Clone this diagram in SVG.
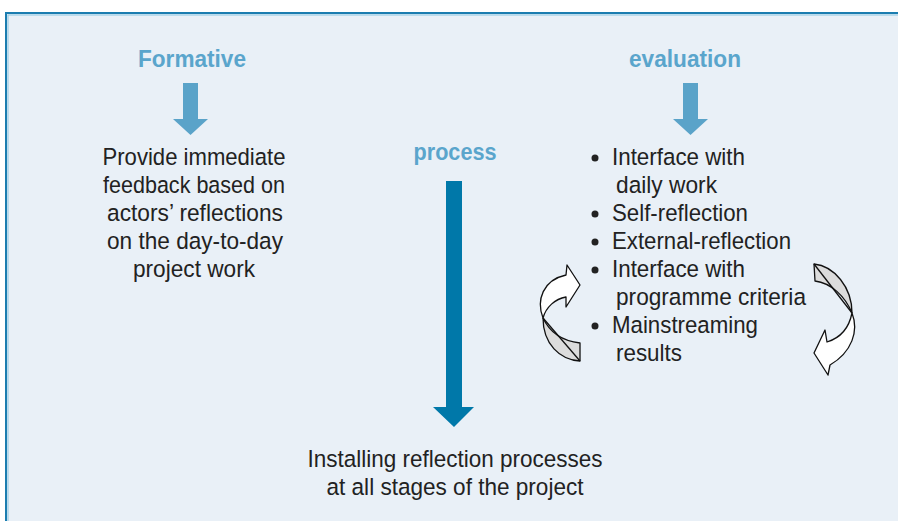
<svg xmlns="http://www.w3.org/2000/svg" width="898" height="521" viewBox="0 0 898 521">
<style>
  .hdr { font-family: "Liberation Sans", Arial, sans-serif; font-weight: bold; font-size: 24.5px; fill: #5aa5cc; text-anchor: middle; }
  .txt { font-family: "Liberation Sans", Arial, sans-serif; font-size: 24.5px; fill: #222; }
  .mid { text-anchor: middle; }
  .small-arrow { fill: #5aa3c9; }
  .big-arrow { fill: #0078a9; }
  .cw { fill: #ffffff; stroke: #111; stroke-width: 1.3; stroke-linejoin: round; }
  .cg { fill: #dcdcdc; stroke: #111; stroke-width: 1.3; stroke-linejoin: round; }
  .bul { fill: #222; }
</style>
<rect x="0" y="0" width="898" height="521" fill="#ffffff"/>
<rect x="6" y="13" width="900" height="520" fill="#e9f0f7" stroke="#1b7db0" stroke-width="2"/>
<rect x="8" y="15" width="900" height="520" fill="none" stroke="#8cc6e2" stroke-width="1"/>

<g id="formative">
  <text class="hdr" x="192" y="67" textLength="108" lengthAdjust="spacingAndGlyphs">Formative</text>
</g>
<g id="evaluation">
  <text class="hdr" x="685" y="67" textLength="112" lengthAdjust="spacingAndGlyphs">evaluation</text>
</g>
<g id="process">
  <text class="hdr" x="455" y="160" textLength="83" lengthAdjust="spacingAndGlyphs">process</text>
</g>

<g id="feedback">
  <text class="txt mid" x="194" y="165" textLength="183" lengthAdjust="spacingAndGlyphs">Provide immediate</text>
  <text class="txt mid" x="194" y="193" textLength="182" lengthAdjust="spacingAndGlyphs">feedback based on</text>
  <text class="txt mid" x="195" y="221" textLength="176" lengthAdjust="spacingAndGlyphs">actors’ reflections</text>
  <text class="txt mid" x="195" y="249" textLength="176" lengthAdjust="spacingAndGlyphs">on the day-to-day</text>
  <text class="txt mid" x="194" y="277" textLength="122" lengthAdjust="spacingAndGlyphs">project work</text>
</g>

<g id="evaluation-list">
  <circle class="bul" cx="595" cy="158" r="3.5"/>
  <text class="txt" x="612" y="165" textLength="133" lengthAdjust="spacingAndGlyphs">Interface with</text>
  <text class="txt" x="616" y="193" textLength="101" lengthAdjust="spacingAndGlyphs">daily work</text>
  <circle class="bul" cx="595" cy="214" r="3.5"/>
  <text class="txt" x="612" y="221" textLength="136" lengthAdjust="spacingAndGlyphs">Self-reflection</text>
  <circle class="bul" cx="595" cy="242" r="3.5"/>
  <text class="txt" x="612" y="249" textLength="179" lengthAdjust="spacingAndGlyphs">External-reflection</text>
  <circle class="bul" cx="595" cy="270" r="3.5"/>
  <text class="txt" x="612" y="277" textLength="133" lengthAdjust="spacingAndGlyphs">Interface with</text>
  <text class="txt" x="616" y="305" textLength="190" lengthAdjust="spacingAndGlyphs">programme criteria</text>
  <circle class="bul" cx="595" cy="326" r="3.5"/>
  <text class="txt" x="612" y="333" textLength="146" lengthAdjust="spacingAndGlyphs">Mainstreaming</text>
  <text class="txt" x="616" y="361" textLength="66" lengthAdjust="spacingAndGlyphs">results</text>
</g>

<g id="installing">
  <text class="txt mid" x="455" y="467" textLength="295" lengthAdjust="spacingAndGlyphs">Installing reflection processes</text>
  <text class="txt mid" x="455" y="495" textLength="257" lengthAdjust="spacingAndGlyphs">at all stages of the project</text>
</g>

<g id="connectors">
  <polygon class="small-arrow" points="183,83 198,83 198,119 208,119 190.5,135 173,119 183,119"/>
  <polygon class="small-arrow" points="683,83 698,83 698,119 708,119 690.5,135 673,119 683,119"/>
  <polygon class="big-arrow" points="446,181 462,181 462,407 474,407 454,427 433,407 446,407"/>
  <g id="cycle-left">
    <path class="cg" d="M543,318 C543,344 560,360 580,361 L580,343 C563,341 550,333 543,318 Z"/>
    <line x1="543" y1="318" x2="580" y2="361" stroke="#111" stroke-width="1.3"/>
    <path class="cw" d="M543,318 C536,300 543,280 566,275 L567,265 L580,285 L566,307 L566,297 C555,299 546,307 543,318 Z"/>
  </g>
  <g id="cycle-right">
    <path class="cg" d="M852,313 C852,287 834,266 814,264 L815,281 C831,283 845,296 852,313 Z"/>
    <line x1="814" y1="264" x2="852" y2="313" stroke="#111" stroke-width="1.3"/>
    <path class="cw" d="M852,313 C859,331 852,352 830,365 L828,375 L814,353 L825,330 L827,342 C840,338 849,328 852,313 Z"/>
  </g>
</g>
</svg>
